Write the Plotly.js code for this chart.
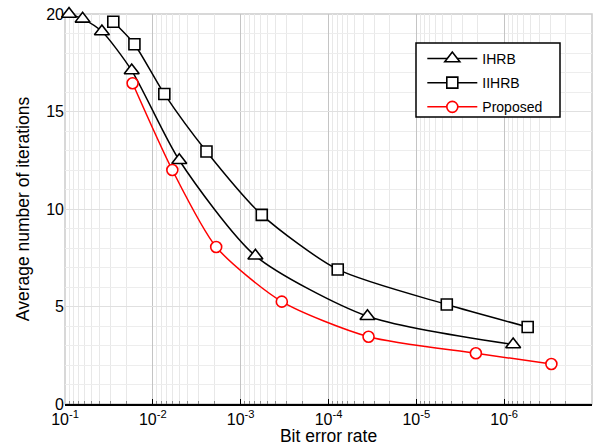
<!DOCTYPE html>
<html>
<head>
<meta charset="utf-8">
<script src="https://cdn.plot.ly/plotly-3.0.1.min.js"></script>
<style>html,body{margin:0;padding:0;background:#fff}#chart{width:598px;height:446px}</style>
</head>
<body>
<div id="chart"></div>
<script>
// Data
const ihrbBER = [0.090, 0.063, 0.038, 0.0174, 0.0050, 6.8e-4, 3.6e-5, 7.9e-7];
const ihrbIter = [20.0, 19.75, 19.1, 17.1, 12.5, 7.6, 4.5, 3.05];

const iihrbBER = [0.0282, 0.0162, 0.0074, 0.00245, 5.75e-4, 7.85e-5, 4.5e-6, 5.4e-7];
const iihrbIter = [19.6, 18.45, 15.9, 12.95, 9.7, 6.9, 5.1, 3.95];

const propBER = [0.017, 0.0060, 0.0019, 3.4e-4, 3.5e-5, 2.1e-6, 2.9e-7];
const propIter = [16.45, 12.0, 8.05, 5.25, 3.45, 2.6, 2.05];

const seriesNames = ["IHRB", "IIHRB", "Proposed"];
const decadeTicks = [1e-1, 1e-2, 1e-3, 1e-4, 1e-5, 1e-6];
const decadeLabels = ["10<sup>-1</sup>", "10<sup>-2</sup>", "10<sup>-3</sup>", "10<sup>-4</sup>", "10<sup>-5</sup>", "10<sup>-6</sup>"];

const minorVals = [];
for (let e = -7; e < -1; e++) {
  for (let m = 2; m <= 9; m++) minorVals.push(m * Math.pow(10, e));
}

const FONT = "Arial, 'Liberation Sans', sans-serif";

const common = {mode: "lines+markers", cliponaxis: false};
const traces = [
  Object.assign({x: ihrbBER, y: ihrbIter, name: seriesNames[0], legendgroup: "g1",
   line: {color: "#000", width: 1.5, shape: "spline", smoothing: 0.7},
   marker: {symbol: "triangle-up", size: 13, color: "#fff", line: {color: "#000", width: 1.6}}}, common),
  Object.assign({x: iihrbBER, y: iihrbIter, name: seriesNames[1], legendgroup: "g2",
   line: {color: "#000", width: 1.5, shape: "spline", smoothing: 0.7},
   marker: {symbol: "square", size: 11, color: "#fff", line: {color: "#000", width: 1.6}}}, common),
  Object.assign({x: propBER, y: propIter, name: seriesNames[2], legendgroup: "g3",
   line: {color: "#ff0000", width: 1.5, shape: "spline", smoothing: 0.7},
   marker: {symbol: "circle", size: 11, color: "#fff", line: {color: "#ff0000", width: 1.6}}}, common)
];

const layout = {
  width: 598, height: 446,
  margin: {l: 65, r: 6, t: 14, b: 42},
  paper_bgcolor: "#fff", plot_bgcolor: "#fff",
  font: {family: FONT, size: 16, color: "#000"},
  showlegend: true,
  legend: {x: 0.678, y: 0.926, xanchor: "left", yanchor: "top",
           bgcolor: "rgba(0,0,0,0)", borderwidth: 0,
           font: {family: FONT, size: 14, color: "#000"},
           tracegroupgap: 3, itemwidth: 50},
  xaxis: {
    type: "log", range: [-1, -7],
    tickmode: "array", tickvals: decadeTicks, ticktext: decadeLabels,
    ticks: "inside", ticklen: 5, tickcolor: "#000", tickwidth: 1,
    showgrid: true, gridcolor: "#c4c4c4", gridwidth: 1,
    minor: {tickmode: "array", tickvals: minorVals, showgrid: true, gridcolor: "#e8e8e8",
            ticks: "inside", ticklen: 3, tickcolor: "#888"},
    showline: true, linecolor: "#000", linewidth: 1.5, mirror: false,
    zeroline: false,
    title: {text: "Bit error rate", font: {family: FONT, size: 17.5}, standoff: 2},
    tickfont: {family: FONT, size: 16}
  },
  yaxis: {
    range: [0, 20], dtick: 5, tick0: 0,
    ticks: "", showgrid: true, gridcolor: "#e0e0e0", gridwidth: 1,
    minor: {dtick: 1, showgrid: true, gridcolor: "#ededed"},
    showline: false, zeroline: false,
    title: {text: "Average number of iterations", font: {family: FONT, size: 17.5}, standoff: 12},
    tickfont: {family: FONT, size: 16}
  },
  shapes: [
    {type: "rect", xref: "paper", yref: "paper", x0: 0, x1: 1, y0: 0, y1: 1,
     line: {color: "#cccccc", width: 1.5}, layer: "below"},
    {type: "rect", xref: "paper", yref: "paper",
     x0: (416 - 65) / 527, x1: (560 - 65) / 527,
     y0: (404 - 117) / 390, y1: (404 - 43) / 390,
     fillcolor: "#fff", line: {color: "#000", width: 1.5}, layer: "above"}
  ]
};

Plotly.newPlot("chart", traces, layout, {displayModeBar: false, staticPlot: true});
</script>
</body>
</html>
